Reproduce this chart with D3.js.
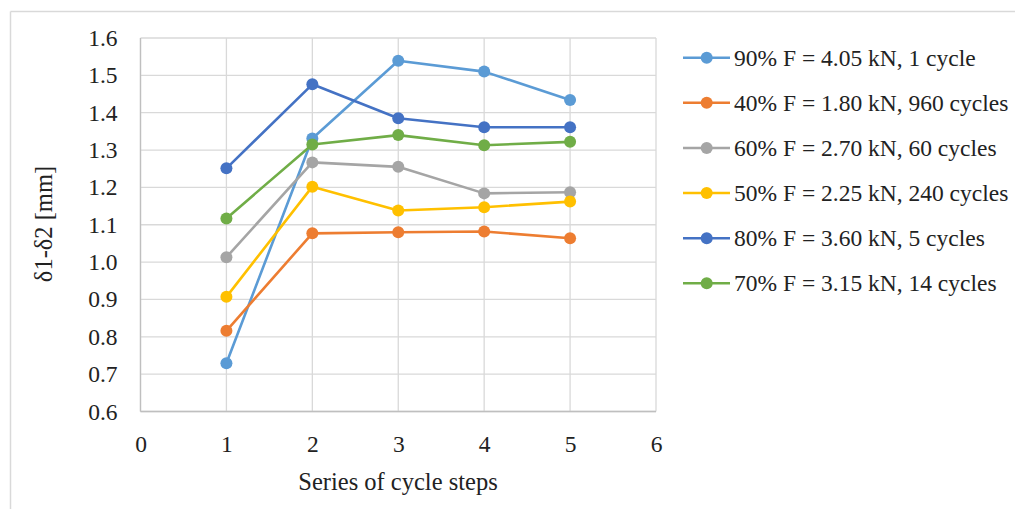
<!DOCTYPE html>
<html>
<head>
<meta charset="utf-8">
<script src="https://cdn.jsdelivr.net/npm/d3@7"></script>
<style>
  html, body { margin: 0; padding: 0; background: #fff; }
  svg { display: block; }
  text { font-family: "Liberation Serif", "DejaVu Serif", serif; fill: #222; }
</style>
</head>
<body>
<svg id="chart" width="1015" height="509"></svg>
<script>
const steps = [1, 2, 3, 4, 5];
const seriesNames = [
  "90% F = 4.05 kN, 1 cycle",
  "40% F = 1.80 kN, 960 cycles",
  "60% F = 2.70 kN, 60 cycles",
  "50% F = 2.25 kN, 240 cycles",
  "80% F = 3.60 kN, 5 cycles",
  "70% F = 3.15 kN, 14 cycles"
];
const s90 = [0.729, 1.331, 1.539, 1.510, 1.434];
const s40 = [0.816, 1.077, 1.080, 1.082, 1.064];
const s60 = [1.013, 1.267, 1.255, 1.184, 1.187];
const s50 = [0.907, 1.202, 1.138, 1.147, 1.162];
const s80 = [1.251, 1.476, 1.385, 1.361, 1.361];
const s70 = [1.117, 1.315, 1.340, 1.313, 1.322];
const seriesValues = [s90, s40, s60, s50, s80, s70];
const colors = ["#5B9BD5", "#ED7D31", "#A5A5A5", "#FFC000", "#4472C4", "#70AD47"];
const xTicks = [0, 1, 2, 3, 4, 5, 6];
const yTicks = [0.6, 0.7, 0.8, 0.9, 1.0, 1.1, 1.2, 1.3, 1.4, 1.5, 1.6];
const xTitle = "Series of cycle steps";
const yTitle = "δ1-δ2 [mm]";

const svg = d3.select("#chart");
const FONT = "Liberation Serif";
const tickSize = 23.5;
const legendSize = 23.5;
const titleSize = 24.5;

// outer frame (top & left edges visible)
svg.append("line").attr("x1", 10.5).attr("x2", 1015).attr("y1", 11.5).attr("y2", 11.5)
  .attr("stroke", "#d9d9d9").attr("stroke-width", 1.5);
svg.append("line").attr("x1", 10.5).attr("x2", 10.5).attr("y1", 11.5).attr("y2", 509)
  .attr("stroke", "#d9d9d9").attr("stroke-width", 1.5);

const x = d3.scaleLinear().domain([0, 6]).range([140.5, 656]);
const y = d3.scaleLinear().domain([0.6, 1.6]).range([411.5, 38]);

const g = svg.append("g");

// gridlines
g.selectAll(".hgrid").data(yTicks).join("line")
  .attr("x1", x(0)).attr("x2", x(6))
  .attr("y1", d => y(d)).attr("y2", d => y(d))
  .attr("stroke", "#d9d9d9").attr("stroke-width", 1.3);
g.selectAll(".vgrid").data(xTicks).join("line")
  .attr("x1", d => x(d)).attr("x2", d => x(d))
  .attr("y1", y(0.6)).attr("y2", y(1.6))
  .attr("stroke", "#d9d9d9").attr("stroke-width", 1.3);
// axis lines
g.append("line").attr("x1", x(0)).attr("x2", x(6)).attr("y1", y(0.6)).attr("y2", y(0.6))
  .attr("stroke", "#bfbfbf").attr("stroke-width", 1.3);
g.append("line").attr("x1", x(0)).attr("x2", x(0)).attr("y1", y(0.6)).attr("y2", y(1.6))
  .attr("stroke", "#bfbfbf").attr("stroke-width", 1.3);

// axes labels via d3 axes
const yAxis = d3.axisLeft(y).tickValues(yTicks).tickFormat(d3.format(".1f")).tickSize(0).tickPadding(23);
const yg = svg.append("g").attr("transform", `translate(${x(0)},0)`).call(yAxis);
yg.select(".domain").remove();
yg.selectAll("text").attr("font-size", tickSize).attr("font-family", FONT).attr("fill", "#222");

const xAxis = d3.axisBottom(x).tickValues(xTicks).tickFormat(d3.format("d")).tickSize(0).tickPadding(24);
const xg = svg.append("g").attr("transform", `translate(0,${y(0.6)})`).call(xAxis);
xg.select(".domain").remove();
xg.selectAll("text").attr("font-size", tickSize).attr("font-family", FONT).attr("fill", "#222");

// titles
svg.append("text").attr("x", 398).attr("y", 490)
  .attr("text-anchor", "middle").attr("font-size", titleSize).attr("font-family", FONT).text(xTitle);
svg.append("text").attr("transform", `translate(52,224) rotate(-90)`)
  .attr("text-anchor", "middle").attr("font-size", titleSize).attr("font-family", FONT).text(yTitle);

// series
const line = d3.line().x((d, i) => x(steps[i])).y(d => y(d));
seriesValues.forEach((vals, si) => {
  const sg = svg.append("g");
  sg.append("path").datum(vals).attr("d", line)
    .attr("fill", "none").attr("stroke", colors[si]).attr("stroke-width", 2.6)
    .attr("stroke-linejoin", "round");
  sg.selectAll("circle").data(vals).join("circle")
    .attr("cx", (d, i) => x(steps[i])).attr("cy", d => y(d)).attr("r", 6)
    .attr("fill", colors[si]);
});

// legend
const legendY = d3.scalePoint().domain(seriesNames).range([57.7, 283.3]);
const lg = svg.append("g");
seriesNames.forEach((name, i) => {
  const ly = legendY(name);
  lg.append("line").attr("x1", 683).attr("x2", 730).attr("y1", ly).attr("y2", ly)
    .attr("stroke", colors[i]).attr("stroke-width", 2.6);
  lg.append("circle").attr("cx", 706.7).attr("cy", ly).attr("r", 6).attr("fill", colors[i]);
  lg.append("text").attr("x", 734).attr("y", ly + 8).attr("font-size", legendSize).attr("font-family", FONT).text(name);
});
</script>
</body>
</html>
